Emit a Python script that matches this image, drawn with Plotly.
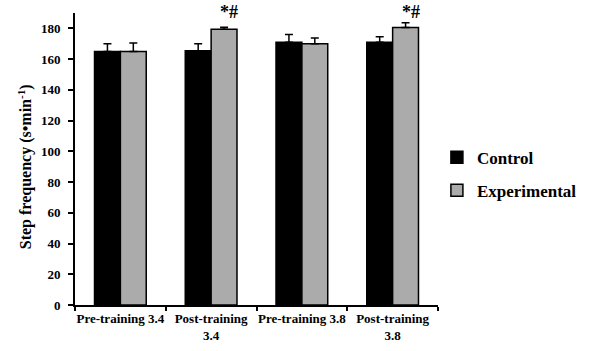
import plotly.graph_objects as go

categories = ["Pre-training 3.4", "Post-training<br>3.4", "Pre-training 3.8", "Post-training<br>3.8"]
control = [165, 165.5, 171, 171]
control_err = [5, 4.5, 5, 3.5]
experimental = [165, 179.5, 170, 180.5]
experimental_err = [5.5, 1.2, 3.7, 3.2]
annot_text = ["", "*#", "", "*#"]

font_family = "Liberation Serif"

fig = go.Figure()
fig.add_trace(go.Bar(
    x=categories, y=control, name="Control", legendgroup="c",
    marker=dict(color="#000000", line=dict(color="#000000", width=1.5)),
    error_y=dict(type="data", array=control_err, arrayminus=[0]*4, symmetric=False,
                 color="#000000", thickness=1.5, width=4),
))
fig.add_trace(go.Bar(
    x=categories, y=experimental, name="Experimental", legendgroup="e",
    marker=dict(color="#ababab", line=dict(color="#000000", width=1.5)),
    error_y=dict(type="data", array=experimental_err, arrayminus=[0]*4, symmetric=False,
                 color="#000000", thickness=1.5, width=4),
))

for cat, txt in zip(categories, annot_text):
    if txt:
        fig.add_annotation(x=cat, yref="paper", y=1.003, text="<b>" + txt + "</b>",
                           showarrow=False, xshift=18,
                           font=dict(family=font_family, size=18, color="#000"),
                           yanchor="middle")

fig.add_annotation(xref="paper", yref="paper", x=-0.138, y=0.475,
                   text="<b>Step frequency (s•min<sup>-1</sup>)</b>", textangle=-90,
                   showarrow=False, xanchor="center", yanchor="middle",
                   font=dict(family=font_family, size=16, color="#000"))

fig.update_layout(
    width=600, height=351,
    margin=dict(l=75, r=162, t=13, b=46),
    paper_bgcolor="white", plot_bgcolor="white",
    barmode="group", bargap=0.43, bargroupgap=0,
    font=dict(family=font_family, color="#000"),
    legend=dict(x=0.997, y=0.448, xanchor="left", yanchor="middle",
                font=dict(family=font_family, size=17, color="#000", weight="bold"),
                itemwidth=30, tracegroupgap=8, bgcolor="rgba(0,0,0,0)"),
    showlegend=True,
)
fig.update_xaxes(
    showline=True, linecolor="#000", linewidth=2, tickangle=0, automargin=False,
    ticks="outside", tickson="boundaries", ticklen=4, tickcolor="#000", tickwidth=1.5,
    tickfont=dict(family=font_family, size=13, color="#000", weight="bold"),
    showgrid=False,
)
fig.update_yaxes(
    range=[0, 190], dtick=20, showline=True, linecolor="#000", linewidth=2, automargin=False,
    ticks="outside", ticklen=5, tickcolor="#000", tickwidth=1.5, ticklabelstandoff=5,
    tickfont=dict(family=font_family, size=13, color="#000", weight="bold"),
    showgrid=False, zeroline=False,
)

fig.write_html("out.html")
